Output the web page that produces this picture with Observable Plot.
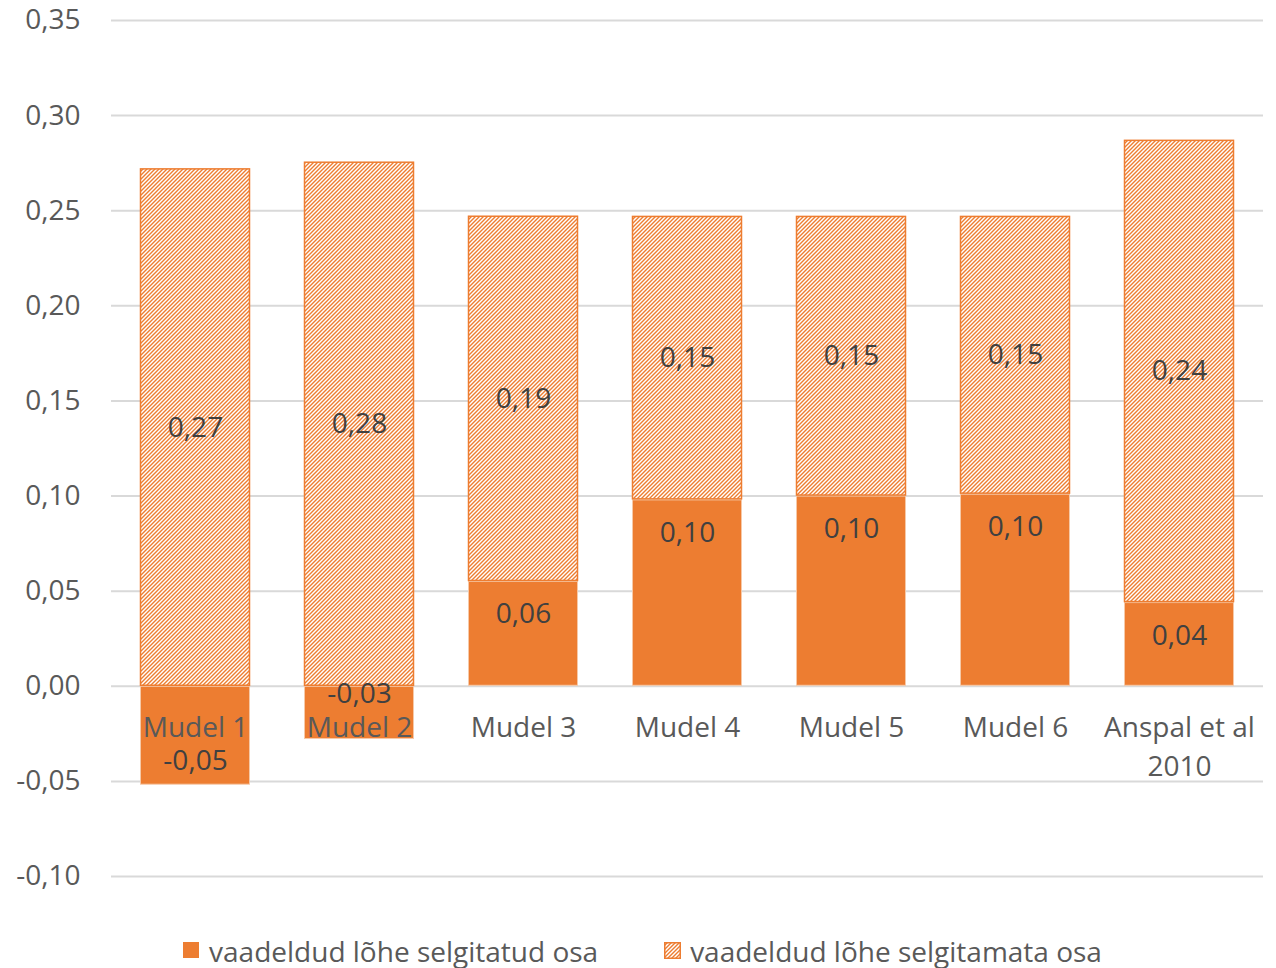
<!DOCTYPE html>
<html>
<head>
<meta charset="utf-8">
<script src="https://cdn.jsdelivr.net/npm/d3@7"></script>
<script src="https://cdn.jsdelivr.net/npm/@observablehq/plot@0.6"></script>
<style>
  html, body { margin: 0; padding: 0; background: #fff; }
  body { width: 1276px; font-family: "Open Sans", sans-serif; }
  #legend { display: flex; justify-content: center; align-items: center; gap: 66px; height: 35px; padding-top: 8px; padding-left: 9px; color: #595959; font-size: 28px; }
  #legend .item { display: flex; align-items: center; gap: 9px; }
  #legend svg { display: block; }
</style>
</head>
<body>
<div id="chart"></div>
<div id="legend"></div>
<script>
// Category labels (x axis)
const categories = ["Mudel 1", "Mudel 2", "Mudel 3", "Mudel 4", "Mudel 5", "Mudel 6", "Anspal et al\n2010"];
// Explained part of the observed gap
const explained = [-0.052, -0.028, 0.0551, 0.098, 0.100, 0.101, 0.044];
// Unexplained part of the observed gap
const unexplained = [0.272, 0.2755, 0.192, 0.149, 0.147, 0.146, 0.243];
// Y tick values
const yTicks = [-0.10, -0.05, 0.00, 0.05, 0.10, 0.15, 0.20, 0.25, 0.30, 0.35];
// Series names (legend)
const seriesNames = ["vaadeldud lõhe selgitatud osa", "vaadeldud lõhe selgitamata osa"];

const ORANGE = "#ED7D31";
const fmt = v => v.toFixed(2).replace(".", ",");

const rows = [];
categories.forEach((c, i) => {
  rows.push({category: c, part: 0, value: explained[i]});
  rows.push({category: c, part: 1, value: unexplained[i]});
});

// Unexplained labels sit in the middle of the hatched segment
const midLabels = categories.map((c, i) => ({
  category: c,
  y: Math.max(0, explained[i]) + unexplained[i] / 2,
  text: fmt(unexplained[i])
}));
// Explained labels sit just inside the end of the solid segment
const endLabels = categories.map((c, i) => ({category: c, y: explained[i], text: fmt(explained[i])}));
const posEnd = endLabels.filter(d => d.y >= 0);
const negLong = endLabels.filter(d => d.y < -0.04);
const negShort = endLabels.filter(d => d.y < 0 && d.y >= -0.04);

const FS = 28;
const labelStyle = {x: "category", y: "y", text: "text", fontSize: FS, fill: "#404040"};

const chart = Plot.plot({
  width: 1276,
  height: 925,
  marginTop: 20,
  marginBottom: 49,
  marginLeft: 111,
  marginRight: 13,
  style: {fontFamily: "Open Sans, sans-serif", background: "#fff"},
  x: {domain: categories, paddingInner: 0.33, paddingOuter: 0.165, axis: null},
  y: {domain: [-0.10, 0.35], axis: null},
  color: {type: "identity"},
  marks: [
    Plot.gridY(yTicks, {stroke: "#d9d9d9", strokeOpacity: 1, strokeWidth: 2}),
    Plot.axisY(yTicks, {
      tickSize: 0, tickPadding: 31, fontSize: FS, fill: "#595959",
      tickFormat: fmt, label: null
    }),
    Plot.barY(rows, Plot.stackY({
      x: "category",
      y: "value",
      order: "part",
      fill: d => d.part === 0 ? ORANGE : "url(#hatch)",
      stroke: d => d.part === 0 ? "#f6c9a8" : ORANGE,
      strokeWidth: d => d.part === 0 ? 1 : 1.5,
      inset: 0.5
    })),
    Plot.text(categories, {
      x: d => d, y: () => 0, text: d => d,
      dy: 23, lineAnchor: "top", lineHeight: 1.4,
      fontSize: FS, fill: "#595959"
    }),
    Plot.text(midLabels, labelStyle),
    Plot.text(posEnd, {...labelStyle, dy: 33}),
    Plot.text(negLong, {...labelStyle, dy: -24}),
    // the shorter negative bar carries its label above the category caption
    Plot.text(negShort, {...labelStyle, dy: -46})
  ]
});

// Diagonal hatch used by the unexplained part
const svgNS = "http://www.w3.org/2000/svg";
function addHatch(svg, id) {
  const defs = document.createElementNS(svgNS, "defs");
  defs.innerHTML = `<pattern id="${id}" patternUnits="userSpaceOnUse" width="4" height="4">
      <rect width="4" height="4" fill="#fff"/>
      <path d="M-1,1 l2,-2 M0,4 l4,-4 M3,5 l2,-2" stroke="${ORANGE}" stroke-width="1.4"/>
    </pattern>`;
  svg.insertBefore(defs, svg.firstChild);
}
addHatch(chart, "hatch");
document.getElementById("chart").appendChild(chart);

// Legend
const legend = document.getElementById("legend");
seriesNames.forEach((name, i) => {
  const item = document.createElement("div");
  item.className = "item";
  const sw = document.createElementNS(svgNS, "svg");
  sw.setAttribute("width", 17);
  sw.setAttribute("height", 17);
  if (i === 0) {
    sw.innerHTML = `<rect x="0" y="0" width="16" height="16" fill="${ORANGE}"/>`;
  } else {
    addHatch(sw, "hatchLegend");
    sw.innerHTML += `<rect x="0.75" y="0.75" width="15.5" height="15.5" fill="url(#hatchLegend)" stroke="${ORANGE}" stroke-width="1.5"/>`;
  }
  const label = document.createElement("span");
  label.textContent = name;
  item.appendChild(sw);
  item.appendChild(label);
  legend.appendChild(item);
});
</script>
</body>
</html>
